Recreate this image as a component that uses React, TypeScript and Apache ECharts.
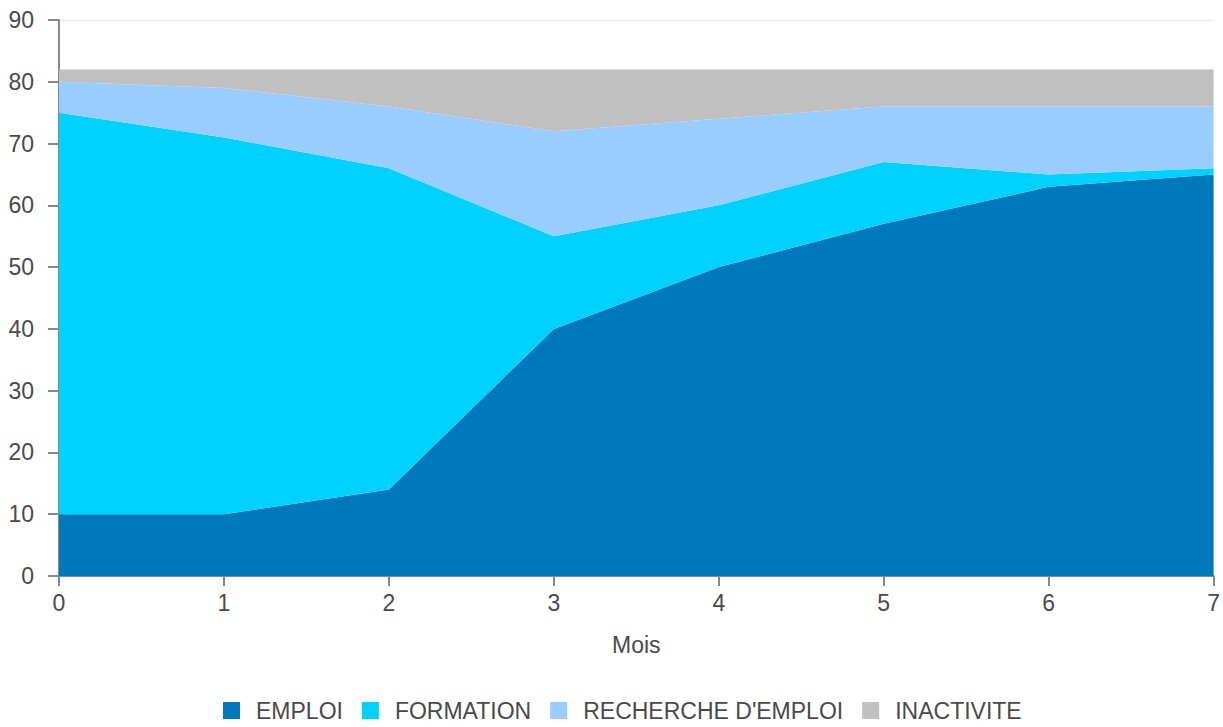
import React, { useEffect, useRef } from "react";
import * as echarts from "echarts";

const months = ["0", "1", "2", "3", "4", "5", "6", "7"];
const emploi = [10, 10, 14, 40, 50, 57, 63, 65];
const formation = [65, 61, 52, 15, 10, 10, 2, 1];
const recherche = [5, 8, 10, 17, 14, 9, 11, 10];
const inactivite = [2, 3, 6, 10, 8, 6, 6, 6];
const yTicks = { min: 0, max: 90, interval: 10 };

const seriesDefs = [
  { name: "EMPLOI", data: emploi, color: "#0079BC" },
  { name: "FORMATION", data: formation, color: "#00D2FF" },
  { name: "RECHERCHE D'EMPLOI", data: recherche, color: "#99CCFF" },
  { name: "INACTIVITE", data: inactivite, color: "#C0C0C0" },
];

export default function App() {
  const ref = useRef<HTMLDivElement>(null);
  useEffect(() => {
    if (!ref.current) return;
    const chart = echarts.init(ref.current, null, { renderer: "svg" });
    const font = "'Liberation Sans', Arial, sans-serif";
    const txt = "#4a4a4a";
    const fs = 23;
    chart.setOption({
      animation: false,
      textStyle: { fontFamily: font },
      grid: { left: 59, right: 8, top: 20, bottom: 151, containLabel: false },
      legend: {
        bottom: 0,
        left: 218,
        itemWidth: 17,
        itemHeight: 17,
        itemGap: 19,
        icon: "rect",
        textStyle: { fontSize: fs, color: txt, fontFamily: font, padding: [0, 0, 0, 11] },
        data: seriesDefs.map((s) => s.name),
      },
      xAxis: {
        type: "category",
        boundaryGap: false,
        data: months,
        name: "Mois",
        nameLocation: "middle",
        nameGap: 57,
        nameTextStyle: { fontSize: fs, color: txt, fontFamily: font },
        axisLine: { lineStyle: { color: "#888", width: 2 } },
        axisTick: { show: true, length: 10, lineStyle: { color: "#888", width: 2 }, alignWithLabel: true },
        axisLabel: { fontSize: fs, color: txt, margin: 15, fontFamily: font },
        splitLine: { show: false },
      },
      yAxis: {
        type: "value",
        ...yTicks,
        axisLine: { show: true, lineStyle: { color: "#888", width: 2 } },
        axisTick: { show: true, length: 11, lineStyle: { color: "#888", width: 2 } },
        axisLabel: { fontSize: fs, color: txt, margin: 25, fontFamily: font },
        splitLine: { show: true, lineStyle: { color: "#e8e8e8" } },
      },
      series: seriesDefs.map((s) => ({
        name: s.name,
        type: "line",
        stack: "total",
        data: s.data,
        showSymbol: false,
        symbol: "none",
        lineStyle: { width: 0, color: s.color },
        itemStyle: { color: s.color },
        areaStyle: { color: s.color, opacity: 1 },
      })),
    });
    return () => chart.dispose();
  }, []);
  return (
    <div
      ref={ref}
      style={{ position: "absolute", left: 0, top: 0, width: 1223, height: 727 }}
    />
  );
}
